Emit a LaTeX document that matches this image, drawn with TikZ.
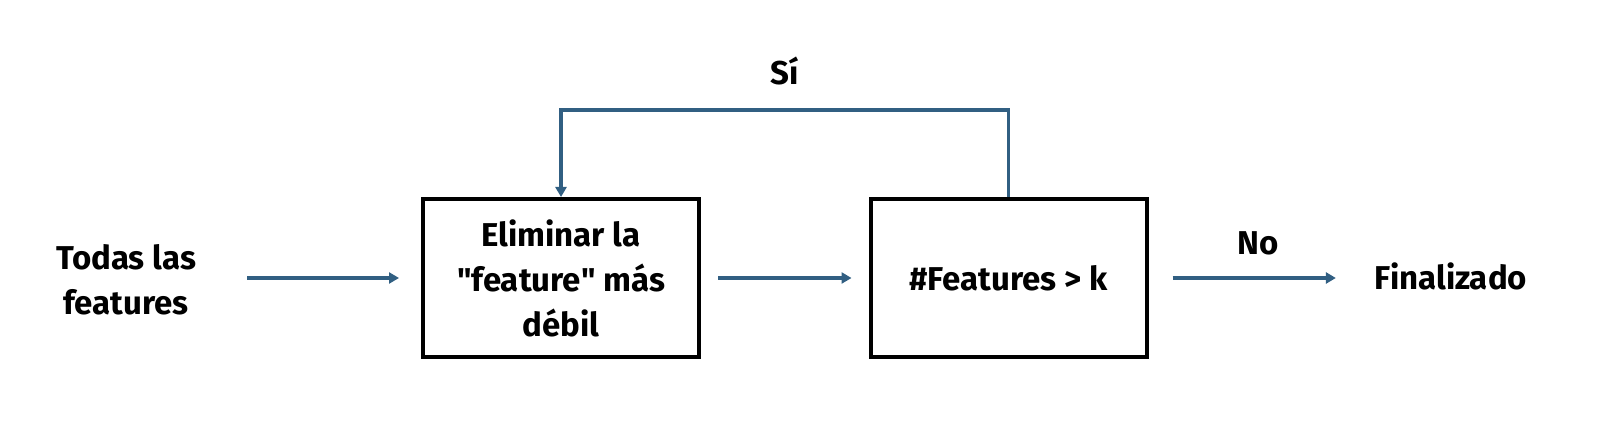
\documentclass[tikz,border=0pt]{standalone}
\usepackage{fontspec}
\setmainfont{Fira Sans}
\usetikzlibrary{arrows.meta}
\definecolor{flowblue}{RGB}{49,95,130}
\begin{document}
\begin{tikzpicture}[x=0.5pt, y=-0.5pt, >={Triangle[length=5pt,width=5.5pt]},
    font=\bfseries\fontsize{16.5}{22.5}\selectfont]
        \tikzset{%
         every stepbox/.style={
            draw,
            line width=2pt,
            minimum width=138pt,
            minimum height=79pt,
            align=center},
        flow/.style={
            ->,
            draw=flowblue,
            line width=1.9pt},
        }
        \useasboundingbox (0,0) rectangle (1598,442);

        \node [align=center] (all) at (126,280) {Todas las\\features};
        \node [every stepbox] (remove) at (561,278) {Eliminar la\\\textquotedbl feature\textquotedbl{} más\\débil};
        \node [every stepbox] (check) at (1008.5,278) {\#Features > k};
        \node (done) at (1451,276) {Finalizado};

        \draw [flow, shorten <=22pt, shorten >=11pt] (all.east |- remove) -- (remove);
        \draw [flow, shorten <=8.5pt, shorten >=8.5pt] (remove) -- (check);
        \draw [flow, shorten <=12pt, shorten >=16pt] (check) -- (done.west |- check)
            node [above=7pt, midway] {No};

        \draw [flow] (check.north) -- ++(0,-87) -| (remove.north)
            node [pos=0.25, above=8pt] {Sí};
\end{tikzpicture}
\end{document}
